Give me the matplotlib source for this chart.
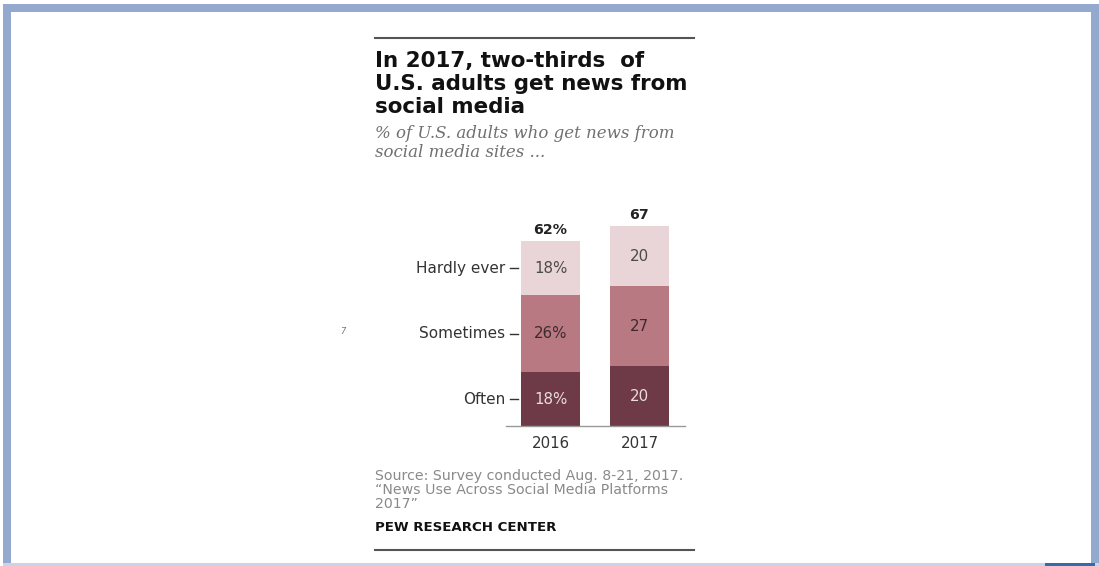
import matplotlib.pyplot as plt
from matplotlib.patches import Rectangle

years = ["2016", "2017"]
categories = ["Often", "Sometimes", "Hardly ever"]
often = [18, 20]
sometimes = [26, 27]
hardly = [18, 20]
seg_labels = [["18%", "26%", "18%"], ["20", "27", "20"]]
totals = ["62%", "67"]

colors = ["#6f3a47", "#b87982", "#e9d4d7"]
text_colors = ["#eadcde", "#3b2a2e", "#4a4a4a"]

W, H = 1099, 566
fig = plt.figure(figsize=(W / 100, H / 100), dpi=100)
fig.patch.set_facecolor("white")


def px(x, y):
    return x / W, 1 - y / H


# frame around the slide
frame = "#93a9cd"
for (x0, y0, x1, y1, c) in [(3, 4, 11, 566, frame), (3, 4, 1099, 12, frame),
                            (1091, 4, 1099, 566, frame), (3, 563, 1099, 566, "#c9d5e7"),
                            (1045, 563, 1095, 566, "#2f6ea6")]:
    fig.patches.append(Rectangle((x0 / W, 1 - y1 / H), (x1 - x0) / W, (y1 - y0) / H,
                                 transform=fig.transFigure, color=c, lw=0))

# rules
fig.add_artist(plt.Line2D([375 / W, 694 / W], [1 - 38 / H] * 2, color="#555555", lw=1.5))
fig.add_artist(plt.Line2D([375 / W, 694 / W], [1 - 550 / H] * 2, color="#555555", lw=1.5))

# title
for i, line in enumerate(["In 2017, two-thirds  of", "U.S. adults get news from", "social media"]):
    fig.text(*px(375, 67 + 23 * i), line, fontsize=15.4, fontweight="bold",
             color="#111111", va="baseline", family="DejaVu Sans")
for i, line in enumerate(["% of U.S. adults who get news from", "social media sites ..."]):
    fig.text(*px(375, 138 + 19 * i), line, fontsize=12, style="italic",
             color="#707070", va="baseline", family="DejaVu Serif")

# source
for i, line in enumerate(["Source: Survey conducted Aug. 8-21, 2017.",
                          "\u201cNews Use Across Social Media Platforms",
                          "2017\u201d"]):
    fig.text(*px(375, 480 + 14 * i), line, fontsize=10.2, color="#8a8a8a",
             va="baseline", family="DejaVu Sans")
fig.text(*px(375, 531), "PEW RESEARCH CENTER", fontsize=9.6, fontweight="bold",
         color="#111111", va="baseline", family="DejaVu Sans")

fig.text(*px(343, 332), "7", fontsize=6, color="#777777", style="italic", ha="center", va="center")

# bar chart
scale = 89.0  # px per x unit
x_left, x_right = 506, 685
ax = fig.add_axes([x_left / W, 1 - 426 / H, (x_right - x_left) / W, 226 / H])
ax.set_xlim((x_left - 550.5) / scale, (x_right - 550.5) / scale)
ax.set_ylim(0, 226 / 2.98)

xs = list(range(len(years)))
bottom = [0, 0]
series = [often, sometimes, hardly]
for k, vals in enumerate(series):
    ax.bar(xs, vals, width=59 / scale, bottom=bottom, color=colors[k], lw=0)
    for j in xs:
        ax.text(j, bottom[j] + vals[j] / 2, seg_labels[j][k], ha="center", va="center",
                fontsize=10.8, color=text_colors[k], family="DejaVu Sans")
    bottom = [b + v for b, v in zip(bottom, vals)]

for j in xs:
    ax.text(j, bottom[j] + 1.5, totals[j], ha="center", va="bottom", fontsize=10.2,
            fontweight="bold", color="#222222", family="DejaVu Sans")

# category labels on 2016 bar
cum = 0
for k, vals in enumerate(series):
    mid = cum + vals[0] / 2
    cum += vals[0]
    ax.plot([(510 - 550.5) / scale, (518 - 550.5) / scale], [mid, mid], color="#333333",
            lw=1, clip_on=False)
    ax.text((505 - 550.5) / scale, mid, categories[k], ha="right", va="center",
            fontsize=11, color="#333333", family="DejaVu Sans")

for s in ["top", "right", "left"]:
    ax.spines[s].set_visible(False)
ax.spines["bottom"].set_color("#999999")
ax.spines["bottom"].set_linewidth(1)
ax.set_yticks([])
ax.set_xticks(xs)
ax.set_xticklabels(years, fontsize=10.8, color="#333333", family="DejaVu Sans")
ax.tick_params(axis="x", length=0, pad=7)
ax.patch.set_alpha(0)

fig.savefig("out.png", dpi=100)
